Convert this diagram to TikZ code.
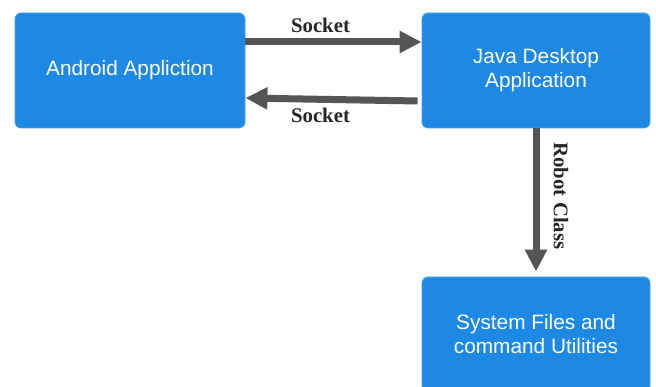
\documentclass[tikz,border=0pt]{standalone}
\usepackage{fontspec}
\setmainfont{Liberation Sans}
\newfontfamily\labelfont{Liberation Serif}
\usetikzlibrary{arrows.meta}
\definecolor{boxblue}{HTML}{1E88E5}
\definecolor{boxedge}{HTML}{4A9FE8}
\definecolor{arrowgray}{HTML}{555555}
\tikzset{
  bluebox/.style={draw=boxedge, line width=0.8pt, fill=boxblue, rounded corners=6pt,
    minimum height=115pt, inner sep=0pt, align=center, text=white,
    font=\fontsize{20.8}{24}\selectfont},
  bigarrow/.style={draw=arrowgray, line width=7pt,
    -{Triangle[length=22pt,width=21pt,fill=arrowgray]}},
  edgelabel/.style={font=\labelfont\bfseries\fontsize{20.8}{24}\selectfont, text=black!85, inner sep=0pt}
}
\begin{document}
\begin{tikzpicture}[x=1pt,y=-1pt]
\useasboundingbox (0,0) rectangle (656,387);
\node[bluebox, minimum width=230pt] (android) at (130,70.5) {Android Appliction};
\node[bluebox, minimum width=228pt] (java) at (536,70.5) {Java Desktop\\Application};
\node[bluebox, minimum width=228pt] (sys) at (536,334.5) {System Files and\\command Utilities};
\draw[bigarrow] ([yshift=28.5pt]android.east) -- ([yshift=28.5pt]java.west);
\draw[bigarrow] ([xshift=-4pt,yshift=-30.5pt]java.west) -- ([yshift=-27.5pt]android.east);
\draw[bigarrow] (java.south) -- ([yshift=5pt]sys.north);
\node[edgelabel] (lab1) at (320.5,25) {Socket};
\node[edgelabel] (lab2) at (320.5,115) {Socket};
\node[edgelabel, rotate=-90] (lab3) at (561,196) {Robot Class};
\end{tikzpicture}
\end{document}
